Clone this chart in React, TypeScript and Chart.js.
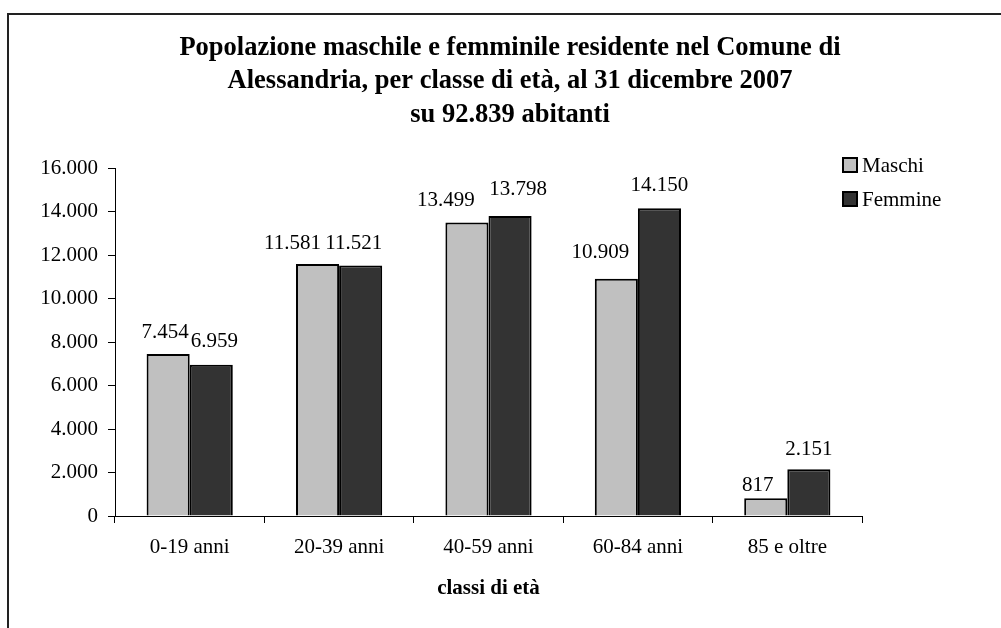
import React, { useEffect, useRef } from "react";
import { Chart, registerables } from "chart.js";

Chart.register(...registerables);

const categories = ["0-19 anni", "20-39 anni", "40-59 anni", "60-84 anni", "85 e oltre"];
const maschi = [7454, 11581, 13499, 10909, 817];
const femmine = [6959, 11521, 13798, 14150, 2151];
const seriesNames = ["Maschi", "Femmine"];
const titleLines = [
  "Popolazione maschile e femminile residente nel Comune di",
  "Alessandria, per classe di età, al 31 dicembre 2007",
  "su 92.839 abitanti",
];
const xTitle = "classi di età";
const yMax = 16000;
const yStep = 2000;

// label placement tweaks (pixels), as in the original where labels were nudged
const labelDx = [
  [-3, -25, -21, -16, -8],
  [3, -7, 8, 0, 0],
];
const labelDy = [
  [-21, -21, -22, -26, -13],
  [-23, -22, -26, -23, -20],
];

const FONT = "'Liberation Serif', 'Times New Roman', serif";

function fmt(v: number): string {
  return String(Math.round(v)).replace(/\B(?=(\d{3})+(?!\d))/g, ".");
}

const decorPlugin = {
  id: "decor",
  beforeDraw(chart: any) {
    const ctx = chart.ctx;
    ctx.save();
    ctx.fillStyle = "#ffffff";
    ctx.fillRect(0, 0, chart.width, chart.height);
    ctx.fillStyle = "#222222";
    ctx.fillRect(7, 13, chart.width - 7, 2);
    ctx.fillRect(7, 13, 2, chart.height - 13);
    ctx.restore();
  },
  afterDraw(chart: any) {
    const ctx = chart.ctx;
    ctx.save();
    // title
    ctx.fillStyle = "#000";
    ctx.font = `bold 26.5px ${FONT}`;
    ctx.textAlign = "center";
    ctx.textBaseline = "middle";
    titleLines.forEach((t, i) => ctx.fillText(t, 510, 48 + i * 33.5));
    // legend
    ctx.font = `21px ${FONT}`;
    ctx.textAlign = "left";
    chart.data.datasets.forEach((ds: any, i: number) => {
      const y = 165 + i * 34;
      ctx.fillStyle = ds.backgroundColor;
      ctx.fillRect(843, y - 7, 14, 14);
      ctx.strokeStyle = "#000";
      ctx.lineWidth = 2;
      ctx.strokeRect(843, y - 7, 14, 14);
      ctx.fillStyle = "#000";
      ctx.fillText(ds.label, 862, y + 1);
    });
    // data labels
    ctx.font = `21px ${FONT}`;
    ctx.textAlign = "center";
    ctx.textBaseline = "middle";
    ctx.fillStyle = "#000";
    chart.data.datasets.forEach((ds: any, di: number) => {
      const meta = chart.getDatasetMeta(di);
      meta.data.forEach((el: any, j: number) => {
        ctx.fillText(fmt(ds.data[j]), el.x + labelDx[di][j], el.y + labelDy[di][j]);
      });
    });
    ctx.restore();
  },
};

export default function App() {
  const ref = useRef<HTMLCanvasElement | null>(null);
  useEffect(() => {
    if (!ref.current) return;
    const chart = new Chart(ref.current, {
      type: "bar",
      data: {
        labels: categories,
        datasets: [
          {
            label: seriesNames[0],
            data: maschi,
            backgroundColor: "#c0c0c0",
            borderColor: "#000",
            borderWidth: 2,
            categoryPercentage: 0.577,
            barPercentage: 1,
          },
          {
            label: seriesNames[1],
            data: femmine,
            backgroundColor: "#333333",
            borderColor: "#000",
            borderWidth: 2,
            categoryPercentage: 0.577,
            barPercentage: 1,
          },
        ],
      },
      plugins: [decorPlugin],
      options: {
        responsive: false,
        animation: false,
        layout: { padding: { left: 0, right: 139, top: 168, bottom: 0 } },
        plugins: {
          legend: { display: false },
          title: { display: false },
          tooltip: { enabled: false },
        },
        scales: {
          x: {
            grid: {
              display: true,
              drawOnChartArea: false,
              tickLength: 7,
              color: "#000",
              offset: true,
            },
            border: { display: true, color: "#000", width: 1 },
            ticks: {
              color: "#000",
              font: { family: FONT, size: 21 },
              padding: 12,
            },
            title: {
              display: true,
              text: xTitle,
              color: "#000",
              font: { family: FONT, size: 21, weight: "bold" },
              padding: { top: 0, bottom: 27 },
            },
            afterFit(scale: any) {
              scale.height = 112;
            },
          },
          y: {
            min: 0,
            max: yMax,
            grid: {
              display: true,
              drawOnChartArea: false,
              tickLength: 7,
              color: "#000",
            },
            border: { display: true, color: "#000", width: 1 },
            ticks: {
              stepSize: yStep,
              color: "#000",
              font: { family: FONT, size: 21 },
              padding: 10,
              callback: (v: any) => fmt(Number(v)),
            },
            afterFit(scale: any) {
              scale.width = 115;
            },
          },
        },
      },
    });
    return () => chart.destroy();
  }, []);
  return (
    <div style={{ position: "fixed", left: 0, top: 0, width: 1001, height: 628, background: "#fff" }}>
      <canvas ref={ref} width={1001} height={628} style={{ display: "block", width: 1001, height: 628 }} />
    </div>
  );
}
